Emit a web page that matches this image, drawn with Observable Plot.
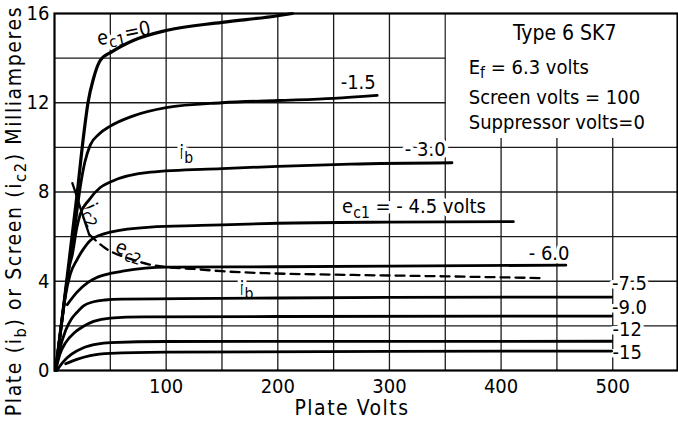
<!DOCTYPE html>
<html><head><meta charset="utf-8">
<script src="https://cdn.jsdelivr.net/npm/d3@7"></script>
<script src="https://cdn.jsdelivr.net/npm/@observablehq/plot@0.6"></script>
<style>body{margin:0;background:#fff;}#chart svg{display:block;}</style>
</head><body><div id="chart"></div>
<script>
const FONT = "'DejaVu Sans Condensed','DejaVu Sans',sans-serif";

// grid & ticks
const xGrid = [50,100,150,200,250,300,350,400,450,500];
const yGrid = [2,4,6,8,10,12,14];
const xTicks = [100,200,300,400,500];
const yTicks = [0,4,8,12,16];

// plate current curves [plate volts, mA]
const ib_0   = [[1,0],[8,2.8],[14,5.3],[20,7.8],[26,10.5],[30,12],[35,13.1],[41,13.9],[52,14.3],[71,14.8],[101,15.25],[150,15.6],[200,15.9],[213,16.0]];
const ib_m15 = [[1,0],[8,2.8],[14,5.0],[19,6.7],[23,8.2],[27,9.3],[32,10.1],[40,10.6],[50,10.95],[70,11.4],[100,11.78],[150,12.0],[200,12.1],[250,12.2],[289,12.33]];
const ib_m30 = [[1,0],[8,2.8],[13,4.6],[16,5.2],[20,6.4],[23,7.0],[31,7.65],[41,8.2],[50,8.45],[86,8.89],[150,9.05],[200,9.15],[265,9.25],[356,9.31]];
const ib_m45 = [[1,0],[6,2.0],[10,3.4],[14,4.3],[20,4.95],[26,5.45],[32,5.83],[40,6.05],[50,6.2],[86,6.43],[131,6.5],[200,6.6],[300,6.65],[411,6.67]];
const ib_m60 = [[11.4,2.95],[20,3.5],[30,3.95],[37,4.15],[50,4.35],[61,4.45],[100,4.63],[200,4.65],[300,4.68],[458,4.72]];
const ib_m75 = [[1,0],[5,1.0],[10,1.8],[15,2.3],[20,2.6],[26,2.9],[35,3.08],[45,3.16],[60,3.2],[113,3.22],[200,3.25],[300,3.28],[499,3.29]];
const ib_m90 = [[1,0],[5,0.75],[10,1.25],[18,1.7],[26,1.98],[35,2.2],[50,2.35],[80,2.4],[200,2.42],[499,2.44]];
const ib_m12 = [[2,0],[8,0.4],[15,0.72],[26,1.02],[38,1.18],[50,1.25],[100,1.3],[499,1.31]];
const ib_m15b = [[10,0.3],[20,0.5],[32,0.67],[50,0.77],[100,0.82],[300,0.86],[499,0.87]];

// screen current curve
const ic2_solid  = [[16,8.4],[18.2,8.07],[25,7.0],[31,6.1]];
const ic2_dashed = [[31,6.1],[45,5.5],[68,5.0],[85,4.75],[101,4.63],[125,4.55],[150,4.45],[190,4.36],[247,4.3],[350,4.22],[439,4.14]];

// curve labels: text, plate volts, mA, rotation
const labelText  = ["e_{c1}=0","-1.5","i_{b}","- 3.0","e_{c1} = - 4.5 volts","- 6.0","-7.5","-9.0","-12","-15","i_{c2}","e_{c2}","i_{b}"];
const labelV     = [62, 272, 118, 332, 322, 443, 515, 515, 513, 513, 35, 67, 172];
const labelI     = [15.1, 12.9, 9.78, 9.9, 7.35, 5.25, 3.9, 2.83, 1.84, 0.81, 7.0, 5.38, 3.68];
const labelRot   = [-12, 0, 0, 0, 0, 0, 0, 0, 0, 0, 65, 18, 0];

// info box
const infoTitle = "Type 6 SK7";
const infoLines = ["E_{f} = 6.3 volts", "Screen volts = 100", "Suppressor volts=0"];
const infoLineI = [13.59, 12.24, 11.12];

const curves = [ib_m15, ib_m30, ib_m45, ib_m60, ib_m75, ib_m90, ib_m12, ib_m15b];
const curveNames = ["-1.5","-3.0","-4.5","-6.0","-7.5","-9.0","-12","-15"];
const lineRows = curves.flatMap((c, k) => c.map(([v, i]) => ({s: curveNames[k], v, i})));
const zeroRows = ib_0.map(([v, i]) => ({v, i}));
const solidRows = ic2_solid.map(([v, i]) => ({v, i}));
const dashRows = ic2_dashed.map(([v, i]) => ({v, i}));
const labels = labelText.map((t, k) => ({t, v: labelV[k], i: labelI[k], r: labelRot[k]}));
const infoRows = infoLines.map((t, k) => ({t, v: 371, i: infoLineI[k]}));

const chart = Plot.plot({
  width: 678, height: 421,
  marginLeft: 54, marginRight: 1, marginTop: 13, marginBottom: 51,
  style: {fontFamily: FONT, fontSize: "20px", color: "black", background: "white"},
  x: {domain: [0, 558], ticks: xTicks, tickSize: 0, tickPadding: 8, label: null},
  y: {domain: [0, 16], ticks: yTicks, tickSize: 0, tickPadding: 5, label: null},
  marks: [
    Plot.ruleX(xGrid, {stroke: "#1a1a1a", strokeWidth: 1.3}),
    Plot.ruleY(yGrid, {stroke: "#1a1a1a", strokeWidth: 1.3}),
    Plot.rect([{x1: 351, x2: 558, y1: 10.4, y2: 16}], {x1: "x1", x2: "x2", y1: "y1", y2: "y2", fill: "white"}),
    Plot.text(labels, {x: "v", y: "i", text: "t", rotate: "r", fontSize: 20, fill: "black", stroke: "white", strokeWidth: 7, paintOrder: "stroke"}),
    Plot.line(lineRows, {x: "v", y: "i", z: "s", curve: "monotone-x", stroke: "black", strokeWidth: 2.8}),
    Plot.line(zeroRows, {x: "v", y: "i", curve: "monotone-x", stroke: "black", strokeWidth: 3.2}),
    Plot.line(solidRows, {x: "v", y: "i", curve: "monotone-x", stroke: "black", strokeWidth: 2.3}),
    Plot.line(dashRows, {x: "v", y: "i", curve: "monotone-x", stroke: "black", strokeWidth: 2.3, strokeDasharray: "9,6"}),
    Plot.text([infoTitle], {x: () => 457, y: () => 15.1, text: d => d, fontSize: 21, fill: "black"}),
    Plot.text(infoRows, {x: "v", y: "i", text: "t", textAnchor: "start", fontSize: 20, fill: "black"}),
    Plot.text(["Plate Volts"], {text: d => d, frameAnchor: "bottom", textAnchor: "middle", dx: -14, dy: 44, fontSize: 21}),
    Plot.text(["Plate (i_{b}) or Screen (i_{c2}) Milliamperes"], {text: d => d, frameAnchor: "left", textAnchor: "middle", rotate: -90, dx: -40, dy: 19, fontSize: 21}),
    Plot.frame({stroke: "black", strokeWidth: 2.2})
  ]
});

// subscript markup  _{...}  -> tspans; letter spacing on axis titles
chart.querySelectorAll("text").forEach(t => {
  const s = t.textContent;
  if (s.startsWith("Plate (")) t.setAttribute("letter-spacing", "1.6px");
  if (s === "Plate Volts") t.setAttribute("letter-spacing", "1.5px");
  if (!s.includes("_{")) return;
  t.textContent = "";
  const parts = s.split(/(_\{[^}]*\})/);
  let sub = false;
  parts.forEach(p => {
    if (!p) return;
    const ts = document.createElementNS("http://www.w3.org/2000/svg", "tspan");
    if (p.startsWith("_{")) {
      ts.textContent = p.slice(2, -1);
      ts.setAttribute("dy", "0.3em");
      ts.setAttribute("font-size", "0.78em");
      sub = true;
    } else {
      ts.textContent = p;
      if (sub) { ts.setAttribute("dy", "-0.234em"); sub = false; }
    }
    t.appendChild(ts);
  });
});

document.getElementById("chart").appendChild(chart);
</script>
</body></html>
